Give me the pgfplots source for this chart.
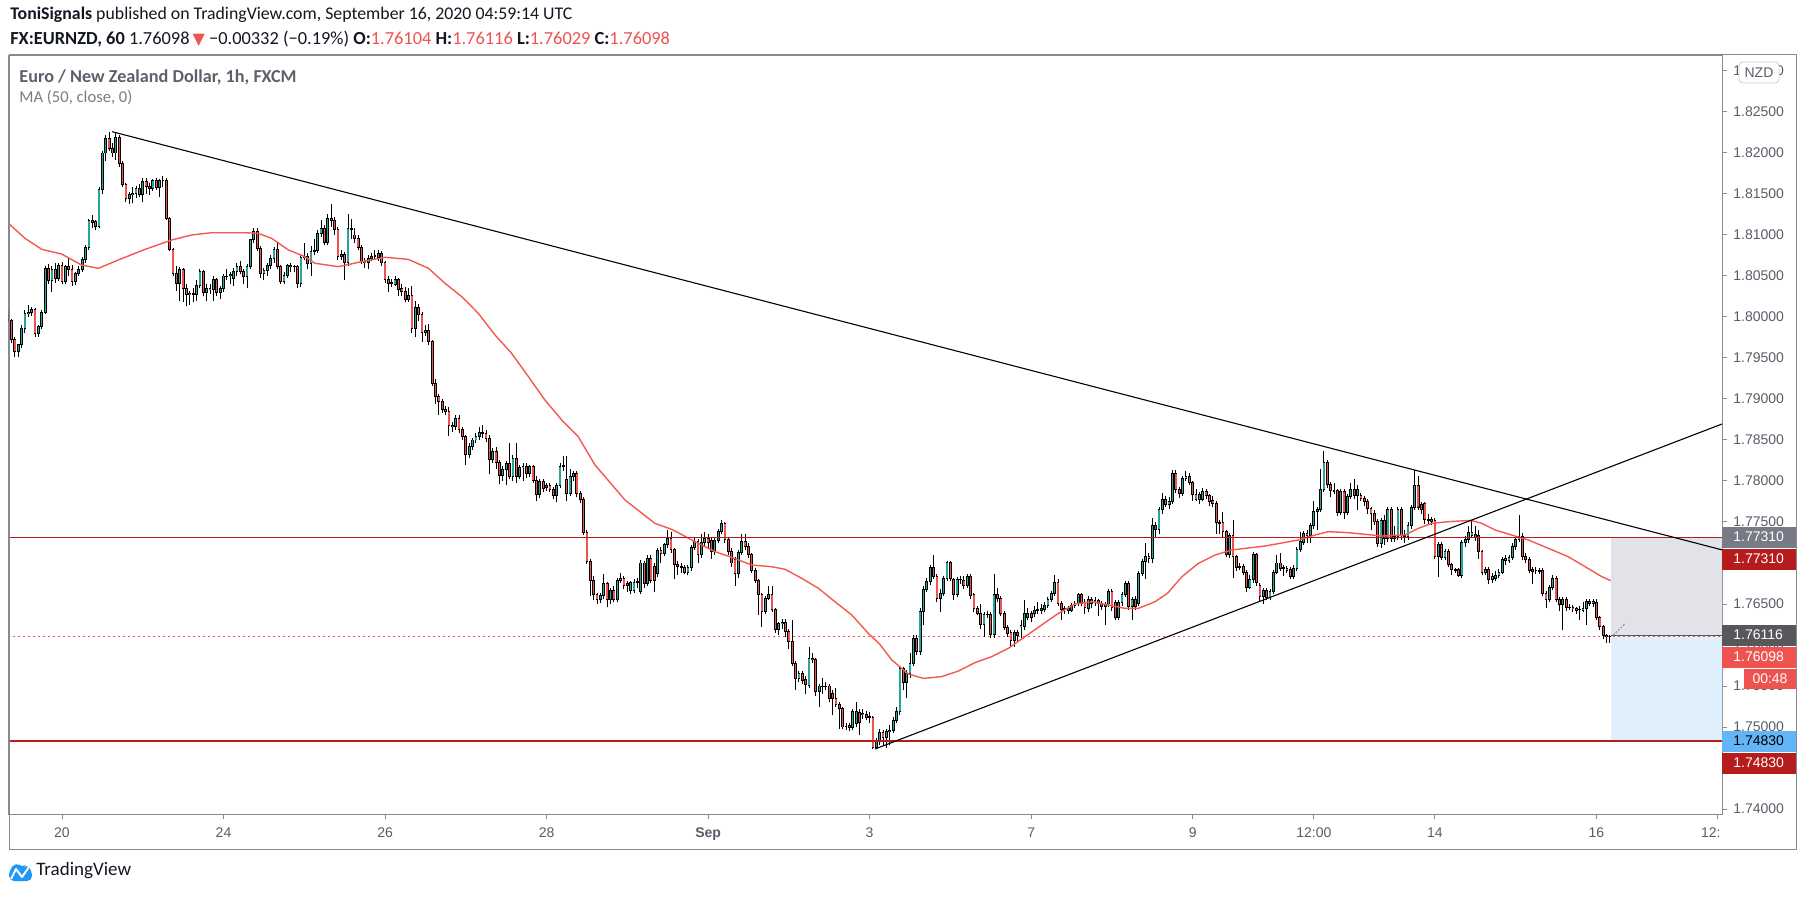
\documentclass[border=0pt]{standalone}
\usepackage{pgfplots}
\pgfplotsset{compat=1.18}
\usepackage{pgfplotstable}
\usepackage{fontspec}
\setmainfont{Carlito}
\newfontfamily\axisfont{Liberation Sans}
\newfontfamily\dejavu{DejaVu Sans}
\definecolor{upc}{RGB}{38,166,154}
\definecolor{dnc}{RGB}{239,83,80}
\definecolor{framec}{RGB}{135,138,148}
\definecolor{lab}{RGB}{90,93,104}
\definecolor{hline}{RGB}{183,28,28}
\definecolor{mac}{RGB}{242,90,80}
\definecolor{boxgray}{RGB}{120,123,134}
\definecolor{boxdark}{RGB}{88,88,92}
\definecolor{boxblue}{RGB}{100,181,246}
\definecolor{posgray}{RGB}{225,227,232}
\definecolor{posblue}{RGB}{224,239,252}
\definecolor{txt}{RGB}{19,23,34}
\definecolor{tvblue}{RGB}{33,150,243}
\definecolor{titlegray}{RGB}{93,96,107}

\pgfplotstableread{
t o h l c
-16 1.8002 1.8009 1.7994 1.7996
-15 1.7996 1.7998 1.7968 1.7972
-14 1.7972 1.7975 1.7951 1.7958
-13 1.7958 1.7967 1.7951 1.7966
-12 1.7966 1.7990 1.7962 1.7986
-11 1.7986 1.8009 1.7980 1.8004
-10 1.8004 1.8015 1.8000 1.8006
-9 1.8006 1.8012 1.8001 1.8009
-8 1.8009 1.8011 1.7975 1.7980
-7 1.7980 1.7990 1.7976 1.7988
-6 1.7988 1.8008 1.7985 1.8006
-5 1.8006 1.8062 1.8004 1.8059
-4 1.8059 1.8065 1.8040 1.8045
-3 1.8045 1.8062 1.8030 1.8058
-2 1.8058 1.8066 1.8042 1.8047
-1 1.8047 1.8066 1.8044 1.8063
0 1.8063 1.8067 1.8040 1.8043
1 1.8043 1.8063 1.8040 1.8061
2 1.8061 1.8073 1.8050 1.8058
3 1.8058 1.8063 1.8038 1.8043
4 1.8043 1.8055 1.8039 1.8053
5 1.8053 1.8062 1.8050 1.8058
6 1.8058 1.8073 1.8055 1.8070
7 1.8070 1.8088 1.8066 1.8085
8 1.8085 1.8120 1.8082 1.8118
9 1.8118 1.8124 1.8108 1.8115
10 1.8116 1.8118 1.8106 1.8110
11 1.8110 1.8158 1.8108 1.8155
12 1.8155 1.8202 1.8150 1.8200
13 1.8200 1.8222 1.8190 1.8218
14 1.8218 1.8226 1.8203 1.8206
15 1.8206 1.8212 1.8195 1.8200
16 1.8200 1.8225 1.8192 1.8219
17 1.8219 1.8222 1.8183 1.8187
18 1.8187 1.8190 1.8158 1.8161
19 1.8161 1.8164 1.8140 1.8144
20 1.8144 1.8152 1.8138 1.8149
21 1.8149 1.8158 1.8139 1.8151
22 1.8151 1.8160 1.8145 1.8157
23 1.8157 1.8162 1.8146 1.8149
24 1.8149 1.8170 1.8140 1.8165
25 1.8165 1.8169 1.8150 1.8159
26 1.8159 1.8163 1.8149 1.8157
27 1.8157 1.8168 1.8154 1.8166
28 1.8166 1.8170 1.8155 1.8158
29 1.8158 1.8168 1.8146 1.8166
30 1.8166 1.8172 1.8158 1.8167
31 1.8167 1.8170 1.8118 1.8120
32 1.8120 1.8122 1.8080 1.8082
33 1.8082 1.8084 1.8050 1.8053
34 1.8053 1.8062 1.8032 1.8041
35 1.8041 1.8061 1.8020 1.8058
36 1.8058 1.8060 1.8018 1.8035
37 1.8035 1.8040 1.8013 1.8027
38 1.8027 1.8032 1.8015 1.8029
39 1.8029 1.8035 1.8018 1.8028
40 1.8028 1.8045 1.8020 1.8038
41 1.8038 1.8058 1.8035 1.8055
42 1.8055 1.8057 1.8025 1.8030
43 1.8030 1.8040 1.8020 1.8035
44 1.8035 1.8040 1.8028 1.8033
45 1.8033 1.8050 1.8020 1.8046
46 1.8046 1.8047 1.8025 1.8030
47 1.8030 1.8038 1.8022 1.8035
48 1.8035 1.8052 1.8030 1.8050
49 1.8050 1.8058 1.8045 1.8050
50 1.8050 1.8055 1.8040 1.8052
51 1.8047 1.8060 1.8038 1.8055
52 1.8055 1.8066 1.8050 1.8062
53 1.8062 1.8068 1.8052 1.8055
54 1.8055 1.8058 1.8040 1.8049
55 1.8049 1.8065 1.8035 1.8061
56 1.8061 1.8095 1.8058 1.8094
57 1.8094 1.8108 1.8090 1.8104
58 1.8104 1.8108 1.8080 1.8084
59 1.8084 1.8086 1.8048 1.8053
60 1.8053 1.8060 1.8045 1.8057
61 1.8057 1.8066 1.8050 1.8063
62 1.8063 1.8075 1.8058 1.8071
63 1.8071 1.8085 1.8066 1.8082
64 1.8082 1.8092 1.8058 1.8062
65 1.8062 1.8064 1.8040 1.8043
66 1.8043 1.8055 1.8040 1.8051
67 1.8051 1.8065 1.8048 1.8063
68 1.8063 1.8066 1.8055 1.8061
69 1.8061 1.8064 1.8055 1.8062
70 1.8062 1.8063 1.8035 1.8041
71 1.8041 1.8075 1.8036 1.8072
72 1.8072 1.8090 1.8070 1.8074
73 1.8074 1.8078 1.8058 1.8065
74 1.8065 1.8086 1.8050 1.8080
75 1.8080 1.8095 1.8075 1.8081
76 1.8081 1.8106 1.8078 1.8102
77 1.8102 1.8118 1.8098 1.8108
78 1.8108 1.8112 1.8088 1.8091
79 1.8091 1.8125 1.8088 1.8120
80 1.8120 1.8138 1.8110 1.8118
81 1.8118 1.8122 1.8100 1.8107
82 1.8107 1.8110 1.8070 1.8074
83 1.8074 1.8082 1.8070 1.8076
84 1.8076 1.8079 1.8045 1.8066
85 1.8066 1.8125 1.8062 1.8108
86 1.8108 1.8120 1.8095 1.8107
87 1.8100 1.8108 1.8090 1.8096
88 1.8096 1.8100 1.8082 1.8085
89 1.8085 1.8088 1.8065 1.8068
90 1.8068 1.8072 1.8060 1.8066
91 1.8066 1.8075 1.8058 1.8071
92 1.8071 1.8078 1.8068 1.8074
93 1.8074 1.8082 1.8070 1.8075
94 1.8072 1.8082 1.8068 1.8078
95 1.8078 1.8080 1.8062 1.8066
96 1.8066 1.8068 1.8042 1.8046
97 1.8046 1.8050 1.8030 1.8041
98 1.8041 1.8046 1.8036 1.8042
99 1.8040 1.8050 1.8038 1.8046
100 1.8046 1.8048 1.8025 1.8034
101 1.8035 1.8040 1.8026 1.8031
102 1.8031 1.8036 1.8018 1.8021
103 1.8021 1.8035 1.8018 1.8026
104 1.8026 1.8038 1.7980 1.7986
105 1.7986 1.8020 1.7975 1.8011
106 1.8011 1.8016 1.7995 1.8003
107 1.8003 1.8006 1.7970 1.7981
108 1.7981 1.7990 1.7977 1.7983
109 1.7984 1.7992 1.7966 1.7970
110 1.7970 1.7972 1.7916 1.7919
111 1.7919 1.7924 1.7894 1.7903
112 1.7903 1.7906 1.7880 1.7897
113 1.7897 1.7900 1.7883 1.7887
114 1.7887 1.7892 1.7880 1.7885
115 1.7885 1.7890 1.7855 1.7868
116 1.7868 1.7872 1.7860 1.7866
117 1.7866 1.7880 1.7862 1.7876
118 1.7876 1.7880 1.7858 1.7863
119 1.7863 1.7866 1.7850 1.7854
120 1.7854 1.7856 1.7820 1.7832
121 1.7832 1.7846 1.7828 1.7842
122 1.7842 1.7853 1.7838 1.7850
123 1.7850 1.7858 1.7846 1.7854
124 1.7854 1.7866 1.7850 1.7859
125 1.7859 1.7868 1.7852 1.7858
126 1.7858 1.7862 1.7848 1.7852
127 1.7852 1.7856 1.7808 1.7826
128 1.7826 1.7840 1.7822 1.7836
129 1.7836 1.7842 1.7815 1.7822
130 1.7822 1.7826 1.7796 1.7807
131 1.7807 1.7818 1.7800 1.7814
132 1.7814 1.7825 1.7795 1.7821
133 1.7821 1.7846 1.7802 1.7805
134 1.7805 1.7832 1.7800 1.7828
135 1.7828 1.7846 1.7798 1.7805
136 1.7805 1.7820 1.7802 1.7816
137 1.7816 1.7822 1.7800 1.7818
138 1.7818 1.7822 1.7804 1.7809
139 1.7809 1.7820 1.7805 1.7818
140 1.7818 1.7820 1.7798 1.7801
141 1.7801 1.7806 1.7775 1.7783
142 1.7783 1.7802 1.7779 1.7799
143 1.7799 1.7803 1.7786 1.7791
144 1.7794 1.7797 1.7788 1.7792
145 1.7794 1.7798 1.7786 1.7790
146 1.7790 1.7793 1.7778 1.7782
147 1.7782 1.7798 1.7774 1.7795
148 1.7795 1.7822 1.7792 1.7818
149 1.7818 1.7830 1.7812 1.7819
150 1.7802 1.7830 1.7775 1.7785
151 1.7785 1.7815 1.7782 1.7805
152 1.7805 1.7812 1.7800 1.7809
153 1.7809 1.7812 1.7780 1.7785
154 1.7785 1.7788 1.7773 1.7778
155 1.7778 1.7780 1.7734 1.7737
156 1.7737 1.7740 1.7699 1.7702
157 1.7702 1.7705 1.7660 1.7679
158 1.7679 1.7684 1.7655 1.7661
159 1.7661 1.7664 1.7650 1.7656
160 1.7656 1.7664 1.7651 1.7660
161 1.7660 1.7686 1.7656 1.7675
162 1.7675 1.7677 1.7646 1.7655
163 1.7655 1.7670 1.7650 1.7667
164 1.7667 1.7672 1.7652 1.7655
165 1.7655 1.7682 1.7652 1.7679
166 1.7679 1.7688 1.7676 1.7681
167 1.7681 1.7684 1.7668 1.7672
168 1.7675 1.7678 1.7665 1.7672
169 1.7666 1.7678 1.7662 1.7676
170 1.7667 1.7680 1.7664 1.7676
171 1.7676 1.7682 1.7670 1.7677
172 1.7665 1.7704 1.7662 1.7700
173 1.7700 1.7702 1.7670 1.7675
174 1.7675 1.7710 1.7672 1.7706
175 1.7706 1.7710 1.7676 1.7679
176 1.7696 1.7700 1.7665 1.7679
177 1.7687 1.7718 1.7683 1.7715
178 1.7715 1.7720 1.7700 1.7711
179 1.7712 1.7725 1.7708 1.7722
180 1.7722 1.7740 1.7718 1.7730
181 1.7730 1.7738 1.7712 1.7716
182 1.7716 1.7718 1.7680 1.7698
183 1.7698 1.7702 1.7685 1.7696
184 1.7696 1.7700 1.7688 1.7695
185 1.7694 1.7697 1.7686 1.7689
186 1.7689 1.7698 1.7685 1.7694
187 1.7694 1.7722 1.7690 1.7719
188 1.7719 1.7730 1.7716 1.7726
189 1.7726 1.7729 1.7700 1.7710
190 1.7710 1.7735 1.7706 1.7725
191 1.7725 1.7738 1.7720 1.7730
192 1.7730 1.7735 1.7718 1.7725
193 1.7728 1.7732 1.7705 1.7714
194 1.7714 1.7732 1.7710 1.7728
195 1.7728 1.7742 1.7724 1.7739
196 1.7739 1.7752 1.7735 1.7748
197 1.7748 1.7750 1.7725 1.7729
198 1.7729 1.7732 1.7710 1.7714
199 1.7714 1.7718 1.7695 1.7700
200 1.7704 1.7707 1.7672 1.7687
201 1.7687 1.7716 1.7682 1.7713
202 1.7713 1.7735 1.7710 1.7726
203 1.7726 1.7735 1.7716 1.7720
204 1.7720 1.7724 1.7706 1.7710
205 1.7710 1.7712 1.7688 1.7691
206 1.7691 1.7694 1.7676 1.7679
207 1.7679 1.7681 1.7636 1.7661
208 1.7661 1.7663 1.7622 1.7641
209 1.7641 1.7660 1.7638 1.7657
210 1.7657 1.7672 1.7655 1.7661
211 1.7661 1.7672 1.7640 1.7643
212 1.7643 1.7645 1.7615 1.7619
213 1.7619 1.7628 1.7612 1.7626
214 1.7626 1.7632 1.7620 1.7628
215 1.7628 1.7632 1.7610 1.7616
216 1.7616 1.7620 1.7595 1.7604
217 1.7604 1.7630 1.7575 1.7578
218 1.7578 1.7580 1.7545 1.7559
219 1.7559 1.7568 1.7555 1.7565
220 1.7565 1.7568 1.7552 1.7557
221 1.7558 1.7562 1.7540 1.7552
222 1.7551 1.7598 1.7548 1.7584
223 1.7584 1.7590 1.7578 1.7582
224 1.7582 1.7584 1.7538 1.7543
225 1.7543 1.7553 1.7525 1.7550
226 1.7550 1.7560 1.7540 1.7549
227 1.7549 1.7555 1.7545 1.7549
228 1.7550 1.7553 1.7530 1.7535
229 1.7541 1.7545 1.7515 1.7535
230 1.7535 1.7548 1.7525 1.7528
231 1.7528 1.7530 1.7498 1.7522
232 1.7522 1.7524 1.7497 1.7500
233 1.7500 1.7505 1.7496 1.7501
234 1.7502 1.7505 1.7495 1.7499
235 1.7499 1.7522 1.7496 1.7519
236 1.7504 1.7531 1.7500 1.7519
237 1.7518 1.7522 1.7490 1.7505
238 1.7515 1.7522 1.7510 1.7517
239 1.7515 1.7520 1.7508 1.7511
240 1.7512 1.7518 1.7505 1.7513
241 1.7511 1.7513 1.7473 1.7475
242 1.7475 1.7486 1.7473 1.7483
243 1.7482 1.7498 1.7478 1.7493
244 1.7493 1.7496 1.7478 1.7487
245 1.7487 1.7498 1.7475 1.7494
246 1.7494 1.7502 1.7478 1.7496
247 1.7496 1.7512 1.7493 1.7508
248 1.7508 1.7524 1.7505 1.7519
249 1.7519 1.7575 1.7515 1.7571
250 1.7571 1.7573 1.7545 1.7554
251 1.7554 1.7570 1.7535 1.7565
252 1.7565 1.7590 1.7560 1.7578
253 1.7578 1.7612 1.7575 1.7608
254 1.7608 1.7612 1.7588 1.7592
255 1.7592 1.7645 1.7588 1.7641
256 1.7641 1.7672 1.7624 1.7668
257 1.7668 1.7682 1.7665 1.7677
258 1.7677 1.7698 1.7673 1.7694
259 1.7694 1.7710 1.7680 1.7684
260 1.7684 1.7686 1.7652 1.7657
261 1.7657 1.7668 1.7640 1.7663
262 1.7663 1.7684 1.7660 1.7681
263 1.7681 1.7703 1.7678 1.7701
264 1.7701 1.7703 1.7678 1.7681
265 1.7680 1.7682 1.7655 1.7662
266 1.7662 1.7683 1.7658 1.7680
267 1.7680 1.7684 1.7675 1.7680
268 1.7679 1.7684 1.7668 1.7673
269 1.7673 1.7687 1.7670 1.7683
270 1.7683 1.7687 1.7656 1.7660
271 1.7661 1.7664 1.7640 1.7644
272 1.7644 1.7647 1.7636 1.7639
273 1.7639 1.7650 1.7620 1.7625
274 1.7625 1.7640 1.7610 1.7637
275 1.7637 1.7641 1.7633 1.7637
276 1.7637 1.7640 1.7608 1.7613
277 1.7613 1.7686 1.7608 1.7662
278 1.7662 1.7670 1.7652 1.7657
279 1.7657 1.7660 1.7635 1.7638
280 1.7638 1.7641 1.7618 1.7621
281 1.7621 1.7624 1.7610 1.7614
282 1.7615 1.7618 1.7598 1.7606
283 1.7606 1.7618 1.7598 1.7615
284 1.7615 1.7618 1.7605 1.7612
285 1.7622 1.7630 1.7608 1.7624
286 1.7622 1.7655 1.7618 1.7639
287 1.7633 1.7645 1.7630 1.7639
288 1.7639 1.7642 1.7628 1.7633
289 1.7638 1.7648 1.7634 1.7642
290 1.7642 1.7652 1.7638 1.7643
291 1.7642 1.7650 1.7638 1.7644
292 1.7643 1.7653 1.7640 1.7648
293 1.7648 1.7658 1.7645 1.7655
294 1.7655 1.7666 1.7652 1.7663
295 1.7663 1.7685 1.7660 1.7676
296 1.7676 1.7680 1.7648 1.7651
297 1.7651 1.7654 1.7630 1.7643
298 1.7643 1.7647 1.7638 1.7644
299 1.7644 1.7647 1.7638 1.7642
300 1.7642 1.7651 1.7640 1.7648
301 1.7648 1.7654 1.7645 1.7651
302 1.7651 1.7664 1.7647 1.7661
303 1.7661 1.7664 1.7647 1.7651
304 1.7652 1.7656 1.7638 1.7646
305 1.7645 1.7660 1.7640 1.7655
306 1.7655 1.7659 1.7645 1.7651
307 1.7652 1.7658 1.7648 1.7654
308 1.7654 1.7656 1.7635 1.7651
309 1.7651 1.7654 1.7643 1.7647
310 1.7647 1.7653 1.7625 1.7650
311 1.7650 1.7668 1.7646 1.7665
312 1.7665 1.7668 1.7642 1.7646
313 1.7652 1.7655 1.7630 1.7634
314 1.7634 1.7655 1.7630 1.7652
315 1.7652 1.7665 1.7648 1.7662
316 1.7662 1.7678 1.7658 1.7675
317 1.7675 1.7678 1.7643 1.7647
318 1.7647 1.7659 1.7630 1.7656
319 1.7656 1.7660 1.7643 1.7647
320 1.7651 1.7690 1.7647 1.7687
321 1.7687 1.7705 1.7684 1.7702
322 1.7702 1.7725 1.7680 1.7708
323 1.7708 1.7712 1.7700 1.7706
324 1.7706 1.7755 1.7700 1.7746
325 1.7746 1.7750 1.7730 1.7741
326 1.7741 1.7768 1.7735 1.7765
327 1.7765 1.7785 1.7760 1.7778
328 1.7778 1.7782 1.7768 1.7771
329 1.7771 1.7780 1.7766 1.7775
330 1.7775 1.7813 1.7772 1.7809
331 1.7809 1.7814 1.7785 1.7790
332 1.7790 1.7793 1.7779 1.7785
333 1.7785 1.7806 1.7782 1.7803
334 1.7803 1.7812 1.7800 1.7806
335 1.7806 1.7810 1.7795 1.7798
336 1.7798 1.7800 1.7776 1.7783
337 1.7778 1.7790 1.7775 1.7783
338 1.7783 1.7786 1.7772 1.7778
339 1.7778 1.7792 1.7775 1.7787
340 1.7787 1.7790 1.7778 1.7782
341 1.7782 1.7784 1.7770 1.7775
342 1.7776 1.7782 1.7768 1.7772
343 1.7772 1.7775 1.7735 1.7749
344 1.7749 1.7752 1.7735 1.7748
345 1.7749 1.7762 1.7730 1.7738
346 1.7738 1.7740 1.7707 1.7710
347 1.7710 1.7737 1.7706 1.7734
348 1.7734 1.7752 1.7682 1.7708
349 1.7708 1.7710 1.7690 1.7695
350 1.7696 1.7700 1.7691 1.7695
351 1.7696 1.7699 1.7685 1.7689
352 1.7689 1.7692 1.7665 1.7670
353 1.7670 1.7685 1.7668 1.7680
354 1.7680 1.7713 1.7676 1.7710
355 1.7710 1.7712 1.7672 1.7676
356 1.7673 1.7676 1.7654 1.7659
357 1.7659 1.7670 1.7650 1.7666
358 1.7666 1.7670 1.7655 1.7658
359 1.7658 1.7668 1.7655 1.7665
360 1.7665 1.7692 1.7662 1.7689
361 1.7689 1.7710 1.7686 1.7700
362 1.7700 1.7712 1.7690 1.7693
363 1.7694 1.7698 1.7684 1.7693
364 1.7691 1.7696 1.7688 1.7693
365 1.7692 1.7695 1.7680 1.7684
366 1.7683 1.7697 1.7680 1.7693
367 1.7693 1.7719 1.7690 1.7717
368 1.7717 1.7738 1.7714 1.7726
369 1.7725 1.7739 1.7722 1.7736
370 1.7736 1.7740 1.7725 1.7733
371 1.7733 1.7749 1.7725 1.7746
372 1.7746 1.7776 1.7742 1.7763
373 1.7763 1.7768 1.7740 1.7765
374 1.7765 1.7815 1.7762 1.7790
375 1.7790 1.7836 1.7787 1.7822
376 1.7822 1.7826 1.7792 1.7796
377 1.7796 1.7799 1.7780 1.7788
378 1.7788 1.7798 1.7784 1.7787
379 1.7788 1.7790 1.7757 1.7761
380 1.7761 1.7790 1.7758 1.7787
381 1.7787 1.7790 1.7754 1.7761
382 1.7761 1.7784 1.7758 1.7781
383 1.7781 1.7797 1.7778 1.7790
384 1.7790 1.7802 1.7778 1.7782
385 1.7782 1.7795 1.7765 1.7790
386 1.7782 1.7785 1.7775 1.7779
387 1.7779 1.7782 1.7770 1.7775
388 1.7775 1.7778 1.7760 1.7766
389 1.7766 1.7768 1.7740 1.7760
390 1.7760 1.7765 1.7746 1.7750
391 1.7751 1.7754 1.7720 1.7724
392 1.7724 1.7755 1.7718 1.7752
393 1.7752 1.7758 1.7722 1.7730
394 1.7730 1.7768 1.7726 1.7765
395 1.7765 1.7768 1.7726 1.7730
396 1.7730 1.7745 1.7726 1.7732
397 1.7732 1.7768 1.7728 1.7765
398 1.7765 1.7768 1.7728 1.7733
399 1.7733 1.7740 1.7725 1.7732
400 1.7732 1.7750 1.7728 1.7746
401 1.7746 1.7771 1.7742 1.7768
402 1.7768 1.7813 1.7765 1.7794
403 1.7794 1.7806 1.7765 1.7768
404 1.7771 1.7774 1.7760 1.7765
405 1.7772 1.7775 1.7748 1.7753
406 1.7753 1.7760 1.7748 1.7752
407 1.7753 1.7756 1.7746 1.7751
408 1.7752 1.7755 1.7705 1.7708
409 1.7708 1.7726 1.7683 1.7723
410 1.7723 1.7726 1.7704 1.7707
411 1.7707 1.7717 1.7704 1.7714
412 1.7714 1.7717 1.7695 1.7698
413 1.7698 1.7700 1.7685 1.7692
414 1.7692 1.7694 1.7688 1.7691
415 1.7692 1.7694 1.7683 1.7685
416 1.7685 1.7728 1.7682 1.7725
417 1.7725 1.7733 1.7720 1.7729
418 1.7729 1.7745 1.7725 1.7737
419 1.7734 1.7752 1.7730 1.7737
420 1.7735 1.7745 1.7727 1.7731
421 1.7734 1.7740 1.7705 1.7714
422 1.7714 1.7716 1.7685 1.7688
423 1.7688 1.7695 1.7685 1.7692
424 1.7692 1.7695 1.7675 1.7680
425 1.7680 1.7688 1.7676 1.7683
426 1.7681 1.7690 1.7678 1.7685
427 1.7685 1.7693 1.7682 1.7689
428 1.7689 1.7707 1.7686 1.7704
429 1.7706 1.7710 1.7698 1.7703
430 1.7703 1.7710 1.7700 1.7707
431 1.7707 1.7724 1.7704 1.7720
432 1.7720 1.7732 1.7716 1.7729
433 1.7729 1.7758 1.7726 1.7732
434 1.7732 1.7736 1.7704 1.7708
435 1.7708 1.7712 1.7700 1.7704
436 1.7704 1.7707 1.7688 1.7691
437 1.7692 1.7695 1.7675 1.7690
438 1.7691 1.7695 1.7686 1.7691
439 1.7690 1.7694 1.7687 1.7691
440 1.7691 1.7694 1.7660 1.7663
441 1.7663 1.7666 1.7645 1.7656
442 1.7656 1.7673 1.7653 1.7670
443 1.7670 1.7685 1.7667 1.7681
444 1.7681 1.7684 1.7652 1.7655
445 1.7655 1.7658 1.7642 1.7649
446 1.7649 1.7658 1.7618 1.7655
447 1.7656 1.7659 1.7642 1.7646
448 1.7646 1.7650 1.7643 1.7646
449 1.7646 1.7649 1.7640 1.7644
450 1.7644 1.7646 1.7638 1.7642
451 1.7643 1.7648 1.7630 1.7643
452 1.7642 1.7652 1.7640 1.7645
453 1.7644 1.7656 1.7625 1.7653
454 1.7653 1.7656 1.7648 1.7651
455 1.7651 1.7656 1.7646 1.7653
456 1.7652 1.7656 1.7630 1.7633
457 1.7633 1.7635 1.7618 1.7622
458 1.7622 1.7624 1.7607 1.7612
459 1.7612 1.7614 1.7603 1.7610
460 1.76104 1.76116 1.76029 1.76098
}\candles

\pgfplotsset{candlepart/.style={only marks, mark=*, mark size=0pt,
  mark options={draw=none, fill=none}, forget plot}}

\begin{document}
\begin{tikzpicture}
\begin{scope}[x=0.5pt,y=-0.5pt,yshift=448pt]
\path[use as bounding box, fill=white] (0,0) rectangle (1805,896);
\end{scope}

\begin{axis}[
  at={(4.5pt,41pt)}, anchor=south west,
  width=856.5pt, height=379.5pt, scale only axis,
  xmin=-15.75, xmax=493.3, ymin=1.73939, ymax=1.83195,
  axis line style={draw=framec, line width=0.5pt},
  xtick pos=left, ytick pos=right,
  tick align=outside, major tick length=2.5pt,
  tick style={draw=framec, line width=0.5pt},
  xtick={0,48,96,144,192,240,288,336,372,408,456,492},
  xticklabels={20,24,26,28,\textbf{Sep},3,7,9,12:00,14,16,{}},
  ytick={1.74,1.745,1.75,1.755,1.76,1.765,1.77,1.775,1.78,1.785,1.79,1.795,1.80,1.805,1.81,1.815,1.82,1.825,1.83},
  scaled y ticks=false,
  /pgf/number format/assume math mode=true,
  ticklabel style={font=\axisfont\fontsize{7}{8}\selectfont, text=lab},
  yticklabel style={anchor=west, inner sep=0pt, xshift=3pt,
    /pgf/number format/fixed, /pgf/number format/fixed zerofill,
    /pgf/number format/precision=5, /pgf/number format/1000 sep={}},
  xticklabel style={anchor=north, inner sep=0pt, yshift=-4pt},
]
% position tool areas
\addplot[fill=posgray, draw=none, forget plot] coordinates {(460.2,1.7731) (494,1.7731) (494,1.76116) (460.2,1.76116)};
\addplot[fill=posblue, draw=none, forget plot] coordinates {(460.2,1.76116) (494,1.76116) (494,1.7483) (460.2,1.7483)};
% current price dotted line
\addplot[dnc, line width=0.5pt, dash pattern=on 1pt off 1.5pt, forget plot] coordinates {(-16,1.76098) (494,1.76098)};
\addplot[boxdark, line width=0.5pt, forget plot] coordinates {(460.2,1.76116) (494,1.76116)};
% wicks
\addplot[candlepart,
  error bars/.cd, y dir=plus, y explicit, error mark=none,
  error bar style={draw=black, line width=0.5pt, solid}]
  table[x=t, y=l, y error expr={\thisrow{h}-\thisrow{l}}] {\candles};
% body outline
\addplot[candlepart,
  error bars/.cd, y dir=plus, y explicit, error mark=none,
  error bar style={draw=black, line width=1.4pt, line cap=butt, solid}]
  table[x=t, y expr={min(\thisrow{o},\thisrow{c})-0.00006}, y error expr={abs(\thisrow{c}-\thisrow{o})+0.00012}] {\candles};
% up fill
\addplot[candlepart, restrict y to domain=1.7:1.9,
  error bars/.cd, y dir=plus, y explicit, error mark=none,
  error bar style={draw=upc, line width=0.65pt, line cap=butt, solid}]
  table[x=t, y expr={\thisrow{c}>=\thisrow{o} ? \thisrow{o}+0.00006 : 0}, y error expr={max(abs(\thisrow{c}-\thisrow{o})-0.00012,0)}] {\candles};
% down fill
\addplot[candlepart, restrict y to domain=1.7:1.9,
  error bars/.cd, y dir=plus, y explicit, error mark=none,
  error bar style={draw=dnc, line width=0.65pt, line cap=butt, solid}]
  table[x=t, y expr={\thisrow{c}<\thisrow{o} ? \thisrow{c}+0.00006 : 0}, y error expr={max(abs(\thisrow{c}-\thisrow{o})-0.00012,0)}] {\candles};
% MA 50
\addplot[mac, line width=0.7pt, forget plot] coordinates {
(-15.9,1.81142) (-11,1.80959) (-6,1.80825) (-0.1,1.80768) (5.8,1.80634) (10.8,1.80593)
(16.7,1.80695) (24.7,1.80825) (32.6,1.80939) (38.5,1.81) (44.5,1.81028) (54.4,1.81028)
(58.3,1.8102) (62.3,1.80959) (67.3,1.80817) (72.2,1.80736) (75.2,1.80655) (82.1,1.80614)
(89.1,1.80675) (96,1.80728) (102.9,1.80703) (108.9,1.80594) (113.8,1.80411) (118.8,1.80248)
(123.7,1.80045) (128.7,1.7978) (133.6,1.79557) (138.6,1.79273) (143.5,1.78988) (148.5,1.78744)
(153.4,1.78541) (158.4,1.78195) (167.3,1.77768) (176.2,1.77483) (181.2,1.7741) (188.1,1.7726)
(194.1,1.77138) (199,1.77069) (205,1.76975) (210.9,1.76955) (214.9,1.76923) (219.8,1.76813)
(224.8,1.76691) (229.7,1.76528) (234.7,1.76366) (239.6,1.76142) (243,1.7601) (246.6,1.75817)
(251.5,1.75646) (256,1.75593) (261.4,1.75614) (266.4,1.75683) (271.3,1.75785) (276.3,1.75858)
(281.2,1.75959) (286.2,1.76102) (291.1,1.76244) (296.1,1.76386) (301,1.765) (306,1.76528)
(310.9,1.76488) (315.9,1.76447) (319.9,1.76447) (324.8,1.76528) (328.5,1.7663) (332.8,1.76833)
(337.7,1.76996) (342.7,1.77098) (347.6,1.77159) (357.5,1.77207) (367.4,1.7728) (372.4,1.77342)
(376.3,1.77382) (382.3,1.7737) (392.2,1.77329) (399.1,1.77342) (403.1,1.77423) (407.1,1.77484)
(412,1.77504) (417,1.77516) (419,1.77516) (421.9,1.77484) (425.9,1.77402) (430.8,1.77341)
(435.8,1.7728) (441.7,1.77179) (447.6,1.77077) (452.6,1.76955) (457.6,1.76833) (460.2,1.76785)};
% horizontal levels
\addplot[hline, line width=0.6pt, forget plot] coordinates {(-16,1.7731) (494,1.7731)};
\addplot[hline, line width=0.6pt, forget plot] coordinates {(-16,1.7483) (494,1.7483)};
% trend lines
\addplot[black, line width=0.55pt, forget plot] coordinates {(14.9,1.8226) (493.3,1.7716)};
\addplot[black, line width=0.55pt, forget plot] coordinates {(241.6,1.74732) (493.3,1.78695)};
\addplot[gray, line width=0.4pt, dash pattern=on 1pt off 0.7pt, forget plot] coordinates {(461,1.7612) (464.5,1.7626)};
\end{axis}

\begin{scope}[x=0.5pt,y=-0.5pt,yshift=448pt]
% outer frame
\draw[framec, line width=0.5pt] (9,55) rectangle (1796,849);
% header
\node[anchor=west, inner sep=0pt, text=txt, font=\fontsize{8.9}{10}\selectfont] at (10,15)
  {\textbf{ToniSignals} published on TradingView.com, September 16, 2020 04:59:14 UTC};
\node[anchor=west, inner sep=0pt, text=txt, font=\fontsize{9.2}{10}\selectfont] at (10,39)
  {\textbf{FX:EURNZD, 60}\ 1.76098\,{\dejavu\fontsize{8}{8}\selectfont\color{dnc}▼}\ −0.00332 (−0.19\%)\ \textbf{O:}\textcolor{dnc}{1.76104}\ \textbf{H:}\textcolor{dnc}{1.76116}\ \textbf{L:}\textcolor{dnc}{1.76029}\ \textbf{C:}\textcolor{dnc}{1.76098}};
\node[anchor=west, inner sep=0pt, text=titlegray, font=\bfseries\fontsize{9.1}{10}\selectfont] at (19,77)
  {Euro / New Zealand Dollar, 1h, FXCM};
\node[anchor=west, inner sep=0pt, text=boxgray, font=\fontsize{8.3}{10}\selectfont] at (19,98)
  {MA (50, close, 0)};
% NZD box
\draw[fill=white, draw={rgb,255:red,205;green,207;blue,214}, rounded corners=2pt, line width=0.4pt] (1739,62) rectangle (1779,83);
\node[text=lab, font=\axisfont\fontsize{7}{8}\selectfont, inner sep=0pt] at (1759,72.5) {NZD};
% price labels
\fill[boxgray] (1722,526.5) rectangle (1796,547.5);
\node[anchor=west, inner sep=0pt, text=white, font=\axisfont\fontsize{7}{8}\selectfont] at (1733,537) {1.77310};
\fill[hline] (1722,548.5) rectangle (1796,569.5);
\node[anchor=west, inner sep=0pt, text=white, font=\axisfont\fontsize{7}{8}\selectfont] at (1733,559) {1.77310};
\fill[boxdark] (1722,624.5) rectangle (1796,645.5);
\node[anchor=west, inner sep=0pt, text=white, font=\axisfont\fontsize{7}{8}\selectfont] at (1733,635) {1.76116};
\fill[dnc] (1722,646.5) rectangle (1796,667.5);
\node[anchor=west, inner sep=0pt, text=white, font=\axisfont\fontsize{7}{8}\selectfont] at (1733,657) {1.76098};
\fill[dnc] (1744,669) rectangle (1796,689);
\node[inner sep=0pt, text=white, font=\axisfont\fontsize{7}{8}\selectfont] at (1770,679) {00:48};
\fill[boxblue] (1722,730.5) rectangle (1796,751.5);
\node[anchor=west, inner sep=0pt, text=black, font=\axisfont\fontsize{7}{8}\selectfont] at (1733,741) {1.74830};
\fill[hline] (1722,752.5) rectangle (1796,773.5);
\node[anchor=west, inner sep=0pt, text=white, font=\axisfont\fontsize{7}{8}\selectfont] at (1733,763) {1.74830};
% clipped time label
\node[anchor=east, inner sep=0pt, text=lab, font=\axisfont\fontsize{7}{8}\selectfont] at (1721,833) {12:};
% TradingView logo
\fill[tvblue, rounded corners=2.5pt] (9,881) -- (9,871) -- (16,862) -- (22,868) -- (27,864) -- (32,871) -- (32,881) -- cycle;
\draw[white, line width=1pt, line join=round] (11,879) -- (16,869) -- (22,877) -- (29,867);
\node[anchor=west, inner sep=0pt, text=txt, font=\fontsize{9.5}{10}\selectfont] at (36,871) {TradingView};
\end{scope}
\end{tikzpicture}
\end{document}
